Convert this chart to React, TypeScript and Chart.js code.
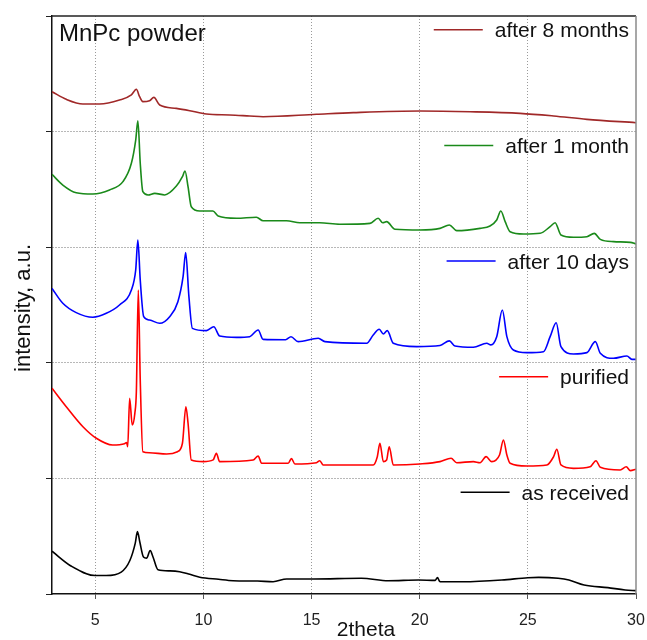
import React, { useEffect, useRef } from 'react';
import { Chart, registerables } from 'chart.js';

Chart.register(...registerables);

const FONT = '"Liberation Sans", Arial, Helvetica, sans-serif';

// ---- data (2theta, intensity in offset units) ----
const asReceivedX = [3.0, 3.9, 5.0, 5.5, 6.2, 6.6, 6.85, 6.95, 7.06, 7.23, 7.37, 7.54, 7.67, 7.9, 8.45, 8.9, 9.37, 9.83, 10.7, 11.37, 12.5, 13.22, 13.85, 15.1, 17.3, 18.55, 19.95, 20.72, 20.82, 20.92, 21.0, 22.0, 23.8, 25.0, 25.5, 26.4, 26.9, 27.6, 28.7, 29.5, 30.0];
const asReceivedY = [0.37, 0.24, 0.16, 0.16, 0.19, 0.29, 0.44, 0.54, 0.45, 0.32, 0.31, 0.375, 0.32, 0.21, 0.2, 0.193, 0.17, 0.145, 0.127, 0.115, 0.112, 0.106, 0.13, 0.13, 0.136, 0.115, 0.121, 0.118, 0.142, 0.11, 0.106, 0.106, 0.121, 0.141, 0.144, 0.136, 0.121, 0.078, 0.055, 0.035, 0.029];

const purifiedX = [3.0, 3.66, 4.43, 5.05, 5.8, 6.35, 6.45, 6.5, 6.59, 6.71, 6.83, 6.9, 6.99, 7.08, 7.2, 7.5, 8.3, 8.8, 9.03, 9.19, 9.29, 9.44, 10.0, 10.45, 10.6, 10.75, 12.3, 12.53, 12.69, 13.92, 14.07, 14.23, 15.23, 15.38, 15.54, 17.85, 18.04, 18.16, 18.32, 18.47, 18.59, 18.78, 20.0, 20.94, 21.45, 21.71, 22.48, 22.79, 23.07, 23.33, 23.69, 23.87, 24.03, 24.18, 24.95, 25.88, 26.19, 26.34, 26.53, 27.11, 27.88, 28.15, 28.35, 29.27, 29.55, 29.74, 30.0];
const purifiedY = [1.78, 1.62, 1.447, 1.347, 1.289, 1.3, 1.31, 1.274, 1.693, 1.462, 1.563, 1.75, 2.63, 1.85, 1.231, 1.222, 1.211, 1.231, 1.304, 1.62, 1.477, 1.159, 1.145, 1.16, 1.217, 1.145, 1.159, 1.194, 1.131, 1.131, 1.171, 1.125, 1.136, 1.153, 1.116, 1.116, 1.188, 1.304, 1.145, 1.159, 1.274, 1.116, 1.125, 1.145, 1.174, 1.136, 1.145, 1.136, 1.188, 1.145, 1.202, 1.332, 1.202, 1.131, 1.107, 1.116, 1.188, 1.252, 1.116, 1.087, 1.101, 1.153, 1.096, 1.073, 1.101, 1.067, 1.079];

const days10X = [3.0, 3.5, 4.12, 4.89, 5.51, 6.12, 6.67, 6.87, 6.97, 7.08, 7.24, 7.51, 7.98, 8.44, 8.82, 9.06, 9.18, 9.33, 9.49, 10.14, 10.48, 10.75, 11.53, 12.14, 12.53, 12.76, 13.8, 14.05, 14.38, 15.31, 15.62, 17.55, 17.85, 18.13, 18.32, 18.5, 18.78, 19.86, 20.94, 21.37, 21.63, 22.48, 23.1, 23.29, 23.56, 23.82, 24.03, 24.33, 24.95, 25.72, 26.03, 26.31, 26.53, 27.11, 27.73, 28.12, 28.35, 28.96, 29.58, 29.81, 30.0];
const days10Y = [2.644, 2.515, 2.434, 2.394, 2.428, 2.5, 2.63, 2.803, 3.062, 2.716, 2.399, 2.37, 2.342, 2.399, 2.529, 2.745, 2.953, 2.572, 2.298, 2.278, 2.312, 2.232, 2.22, 2.226, 2.284, 2.203, 2.2, 2.225, 2.183, 2.212, 2.183, 2.169, 2.24, 2.29, 2.249, 2.278, 2.169, 2.14, 2.15, 2.19, 2.145, 2.134, 2.169, 2.155, 2.226, 2.457, 2.226, 2.111, 2.088, 2.096, 2.226, 2.347, 2.14, 2.076, 2.088, 2.183, 2.082, 2.039, 2.059, 2.03, 2.03];

const month1X = [3.0, 3.5, 4.12, 4.89, 5.66, 6.28, 6.67, 6.87, 6.97, 7.08, 7.2, 7.44, 7.75, 8.21, 8.75, 9.03, 9.15, 9.29, 9.44, 9.83, 10.44, 10.68, 11.53, 12.45, 12.76, 13.84, 14.46, 15.38, 16.31, 17.7, 18.08, 18.29, 18.47, 18.86, 20.01, 20.94, 21.37, 21.71, 22.79, 23.25, 23.56, 23.75, 23.95, 24.18, 24.8, 25.57, 26.03, 26.26, 26.53, 27.11, 27.73, 28.07, 28.35, 28.96, 29.74, 30.0];
const month1Y = [3.63, 3.538, 3.471, 3.46, 3.495, 3.567, 3.726, 3.927, 4.094, 3.726, 3.48, 3.452, 3.466, 3.452, 3.529, 3.61, 3.659, 3.523, 3.35, 3.313, 3.313, 3.27, 3.25, 3.259, 3.229, 3.229, 3.212, 3.212, 3.198, 3.206, 3.25, 3.212, 3.221, 3.155, 3.149, 3.163, 3.192, 3.143, 3.163, 3.183, 3.235, 3.313, 3.221, 3.134, 3.114, 3.12, 3.178, 3.212, 3.106, 3.086, 3.091, 3.12, 3.068, 3.048, 3.042, 3.028];

const months8X = [3.0, 3.66, 4.43, 5.2, 6.12, 6.67, 6.9, 7.05, 7.2, 7.51, 7.71, 7.98, 8.75, 9.37, 10.14, 11.22, 12.14, 12.76, 15.23, 16.93, 20.01, 22.33, 24.64, 26.19, 27.73, 30.0];
const months8Y = [4.345, 4.279, 4.239, 4.239, 4.273, 4.317, 4.366, 4.302, 4.259, 4.267, 4.296, 4.23, 4.201, 4.181, 4.152, 4.144, 4.135, 4.129, 4.15, 4.164, 4.178, 4.172, 4.158, 4.135, 4.106, 4.077];

const seriesLabels = ['as received', 'purified', 'after 10 days', 'after 1 month', 'after 8 months'];
const seriesColors = ['#000000', '#ff0000', '#0000ff', '#1a8a1a', '#a02828'];
const seriesX = [asReceivedX, purifiedX, days10X, month1X, months8X];
const seriesY = [asReceivedY, purifiedY, days10Y, month1Y, months8Y];

const xTicks = [5, 10, 15, 20, 25, 30];
const yTicks = [0, 1, 2, 3, 4, 5];

const chartTitle = 'MnPc powder';
const xTitle = '2theta';
const yTitle = 'intensity, a.u.';

export default function App() {
  const ref = useRef<HTMLCanvasElement>(null);

  useEffect(() => {
    const canvas = ref.current!;

    const decor = {
      id: 'decor',
      afterDatasetsDraw(chart: any) {
        const { ctx, chartArea, scales } = chart;
        const ys = scales.y;
        ctx.save();
        // top and right frame
        ctx.lineWidth = 1.5;
        ctx.strokeStyle = '#222';
        ctx.beginPath();
        ctx.moveTo(chartArea.left, chartArea.top);
        ctx.lineTo(chartArea.right, chartArea.top);
        ctx.stroke();
        ctx.strokeStyle = '#8a8a8a';
        ctx.beginPath();
        ctx.moveTo(chartArea.right, chartArea.top);
        ctx.lineTo(chartArea.right, chartArea.bottom);
        ctx.stroke();

        // title inside plot
        ctx.fillStyle = '#111';
        ctx.font = `24px ${FONT}`;
        ctx.textAlign = 'left';
        ctx.textBaseline = 'alphabetic';
        ctx.fillText(chartTitle, chartArea.left + 7, chartArea.top + 25);

        // legend entries, one above each trace
        ctx.font = `21px ${FONT}`;
        for (let i = 0; i < seriesLabels.length; i++) {
          const ly = ys.getPixelForValue(i + 0.88);
          const textRight = chartArea.right - 7;
          const w = ctx.measureText(seriesLabels[i]).width;
          const textLeft = textRight - w;
          ctx.fillStyle = '#111';
          ctx.textAlign = 'left';
          ctx.fillText(seriesLabels[i], textLeft, ly + 7.5);
          ctx.strokeStyle = seriesColors[i];
          ctx.lineWidth = 1.5;
          ctx.beginPath();
          ctx.moveTo(textLeft - 12 - 49, ly);
          ctx.lineTo(textLeft - 12, ly);
          ctx.stroke();
        }

        // axis titles
        ctx.fillStyle = '#111';
        ctx.font = `21px ${FONT}`;
        ctx.textAlign = 'center';
        ctx.fillText(xTitle, 366, 636);
        ctx.save();
        ctx.translate(29.5, 308);
        ctx.rotate(-Math.PI / 2);
        ctx.font = `22px ${FONT}`;
        ctx.fillText(yTitle, 0, 0);
        ctx.restore();
        ctx.restore();
      },
    };

    const chart = new Chart(canvas, {
      type: 'line',
      data: {
        datasets: seriesLabels.map((label, i) => ({
          label,
          data: seriesX[i].map((x, j) => ({ x, y: seriesY[i][j] })),
          borderColor: seriesColors[i],
          backgroundColor: seriesColors[i],
          borderWidth: 1.6,
          pointRadius: 0,
          fill: false,
          cubicInterpolationMode: 'monotone' as const,
        })),
      },
      options: {
        responsive: false,
        animation: false,
        layout: { padding: { top: 16, right: 11, left: 0, bottom: 0 } },
        plugins: {
          legend: { display: false },
          tooltip: { enabled: false },
          title: { display: false },
        },
        scales: {
          x: {
            type: 'linear',
            min: 3,
            max: 30,
            afterBuildTicks: (s: any) => {
              s.ticks = xTicks.map((v) => ({ value: v }));
            },
            afterFit: (s: any) => {
              s.height = 46;
              s.paddingLeft = 0;
              s.paddingRight = 0;
            },
            grid: {
              color: (c: any) => (c.tick && c.tick.value === 30 ? 'rgba(0,0,0,0)' : '#9a9a9a'),
              lineWidth: 1,
              tickLength: 5,
              tickColor: '#555',
              tickWidth: 1,
              tickBorderDash: [],
            },
            border: { display: true, color: '#111', width: 1.5, dash: [1, 2] },
            ticks: {
              color: '#222',
              font: { family: FONT, size: 16 },
              padding: 12,
              maxRotation: 0,
            },
          },
          y: {
            type: 'linear',
            min: 0,
            max: 5,
            afterBuildTicks: (s: any) => {
              s.ticks = yTicks.map((v) => ({ value: v }));
            },
            afterFit: (s: any) => {
              s.width = 52;
              s.paddingTop = 0;
              s.paddingBottom = 0;
            },
            grid: {
              color: (c: any) =>
                c.tick && (c.tick.value === 0 || c.tick.value === 5) ? 'rgba(0,0,0,0)' : '#707070',
              lineWidth: 1,
              tickLength: 6,
              tickColor: '#222',
              tickWidth: 1,
              tickBorderDash: [],
            },
            border: { display: true, color: '#111', width: 1.5, dash: [1, 2] },
            ticks: { display: false },
          },
        },
      },
      plugins: [decor],
    });

    return () => chart.destroy();
  }, []);

  return (
    <div style={{ position: 'absolute', left: 0, top: 0, width: 647, height: 640, background: '#fff' }}>
      <canvas ref={ref} width={647} height={640} style={{ display: 'block', width: 647, height: 640 }} />
    </div>
  );
}
